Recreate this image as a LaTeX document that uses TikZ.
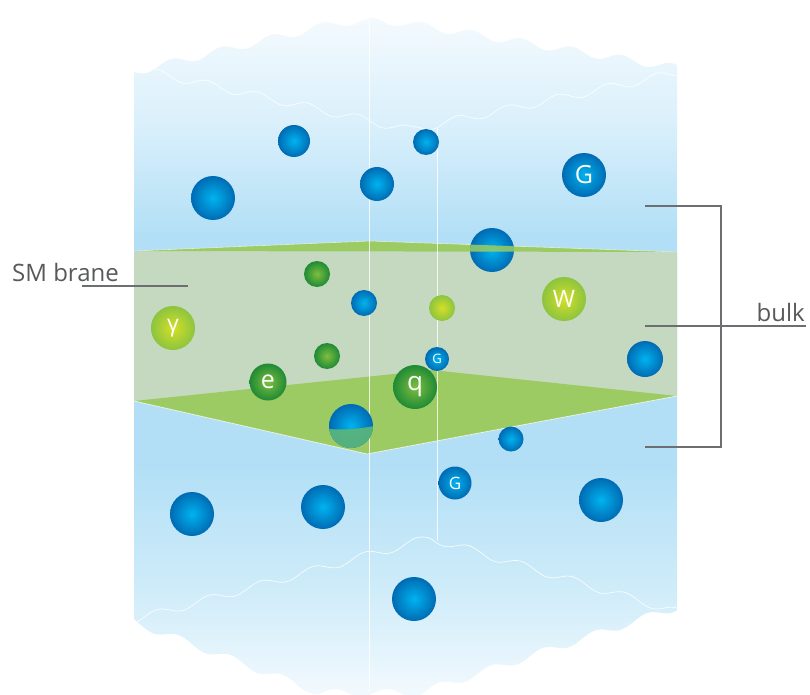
\documentclass[tikz,border=0pt]{standalone}
\usepackage{fontspec}
\setmainfont{Open Sans}
\begin{document}
\definecolor{sky0}{HTML}{F6FBFE}
\definecolor{sky1}{HTML}{D8EFFB}
\definecolor{sky2}{HTML}{B2DFF6}
\definecolor{sky3}{HTML}{CFECF9}
\definecolor{sky4}{HTML}{F4FAFE}
\definecolor{branefront}{HTML}{C5D9C0}
\definecolor{braneface}{HTML}{9DCB63}
\definecolor{ballcore}{HTML}{00B3F0}
\definecolor{ballrim}{HTML}{006BB3}
\definecolor{leafcore}{HTML}{7DBE3F}
\definecolor{leafrim}{HTML}{1F8A35}
\definecolor{limecore}{HTML}{D5DF26}
\definecolor{limerim}{HTML}{8CC43F}
\definecolor{sunkgreen}{HTML}{5CB67A}
\definecolor{inkgray}{HTML}{58595B}
\definecolor{rulegray}{HTML}{6D6E71}
\begin{tikzpicture}[x=1pt,y=-1pt,
  sph/.style={circle,inner sep=0pt,minimum size=#1,text=white},
  bsph/.style={sph=#1,inner color=ballcore,outer color=ballrim},
  gsph/.style={sph=#1,inner color=leafcore,outer color=leafrim},
  lsph/.style={sph=#1,inner color=limecore,outer color=limerim},
  wave/.style={white,line width=0.7pt,opacity=0.85},
  guide/.style={white,line width=0.9pt,opacity=0.8},
  rule/.style={rulegray,line width=1.6pt},
  label/.style={inkgray,font=\fontsize{24}{28}\selectfont,inner sep=0pt}]
\useasboundingbox (0,0) rectangle (810,695);

% bulk column with wavy top and bottom edges
\def\bulkpath{(134,72) -- plot[domain=134:677,samples=220]
   (\x,{22+0.2427*max(0,340-\x)+0.1661*max(0,\x-400)+4*sin(7.2*(\x-134))})
   -- plot[domain=677:134,samples=220]
   (\x,{693-0.3817*max(0,320-\x)-0.3346*max(0,\x-420)+4*sin(6.923*(\x-140))})
   -- cycle}
\begin{scope}
  \clip \bulkpath;
  \shade[top color=sky0,bottom color=sky1] (130,10) rectangle (680,130);
  \shade[top color=sky1,bottom color=sky2] (130,130) rectangle (680,235);
  \fill[sky2] (130,235) rectangle (680,465);
  \shade[top color=sky2,bottom color=sky3] (130,465) rectangle (680,590);
  \shade[top color=sky3,bottom color=sky4] (130,590) rectangle (680,700);
  % inner wave lines
  \draw[wave] plot[domain=134:677,samples=220]
    (\x,{130-0.2246*max(0,410-\x)-0.2135*max(0,\x-410)+4*sin(7.2*(\x-120))});
  \draw[wave] plot[domain=134:677,samples=220]
    (\x,{538+0.277*max(0,430-\x)+0.2996*max(0,\x-430)+4*sin(6.923*(\x-118))});
\end{scope}

% the brane slab
\fill[branefront] (134,251) -- (677,252) -- (677,396) -- (134,401) -- cycle;
\fill[braneface] (134,251) -- (370,241) -- (677,252) -- cycle;
\fill[braneface] (134,401) -- (432,370) -- (677,396) -- (367,454) -- cycle;
\draw[white,line width=0.8pt,opacity=0.7] (134,401) -- (367,454) -- (677,396);
\draw[white,line width=0.6pt,opacity=0.6] (134,251) -- (370,241) -- (677,252);

% vertical guide lines
\draw[guide] (369,18) -- (369,692);
\draw[guide] (437,128) -- (437,541);

% gravitons in the bulk
\node[bsph=32pt] (b1) at (294,141) {};
\node[bsph=44pt] (b2) at (213,198) {};
\node[bsph=34pt] (b3) at (377,184) {};
\node[bsph=26pt] (b4) at (426,142) {};
\node[bsph=44pt,font=\fontsize{25}{25}\selectfont] (g1) at (584,175) {G};
\node[bsph=44pt] (b5) at (492,250) {};
\node[bsph=26pt] (b6) at (364,303) {};
\node[bsph=24pt,font=\fontsize{13}{13}\selectfont] (g2) at (437,359) {G};
\node[bsph=36pt] (b7) at (645,359) {};
\node[bsph=44pt] (b8) at (351,426) {};
\node[bsph=25pt] (b9) at (511,439) {};
\node[bsph=33pt,font=\fontsize{17}{17}\selectfont] (g3) at (455,483) {G};
\node[bsph=44pt] (b10) at (192,514) {};
\node[bsph=44pt] (b11) at (323,507) {};
\node[bsph=44pt] (b12) at (601,500) {};
\node[bsph=44pt] (b13) at (414,599) {};

% sphere pieces that lie inside the brane faces
\begin{scope}
  \clip (b5) circle (22);
  \fill[braneface,opacity=0.85] (134,251) -- (370,241) -- (677,252) -- cycle;
\end{scope}
\begin{scope}
  \clip (b8) circle (22);
  \fill[sunkgreen,opacity=0.92] (320,428) .. controls (340,431) and (360,429) .. (380,425)
     -- (380,460) -- (320,460) -- cycle;
\end{scope}

% Standard Model particles on the brane
\node[gsph=26pt] (s1) at (317,274) {};
\node[gsph=26pt] (s2) at (327,356) {};
\node[gsph=37pt,font=\fontsize{25}{25}\selectfont] (el) at (268,382) {e};
\node[gsph=44pt,font=\fontsize{26}{26}\selectfont] (qk) at (415,387) {q};
\node[lsph=44pt,font=\fontsize{23}{23}\selectfont] (ph) at (173,328) {γ};
\node[lsph=26pt] (s3) at (442,308) {};
\node[lsph=44pt,font=\fontsize{24}{24}\selectfont] (wb) at (564,299) {W};

% labels
\node[label,anchor=base west] (sm) at (12,281) {SM brane};
\coordinate (smA) at (82,286);
\coordinate (smB) at (188,286);
\draw[rule] (smA) -- (smB);

\coordinate (bt0) at (645,206);
\coordinate (bt1) at (721,206);
\coordinate (bb0) at (645,447);
\coordinate (bb1) at (721,447);
\coordinate (bm0) at (645,326);
\coordinate (bm1) at (806,326);
\draw[rule,line width=1.4pt] (bt0) -- (bt1) -- (bb1) -- (bb0);
\draw[rule] (bm0) -- (bm1);
\node[label,anchor=base east] (bulk) at (805,321) {bulk};
\end{tikzpicture}
\end{document}
